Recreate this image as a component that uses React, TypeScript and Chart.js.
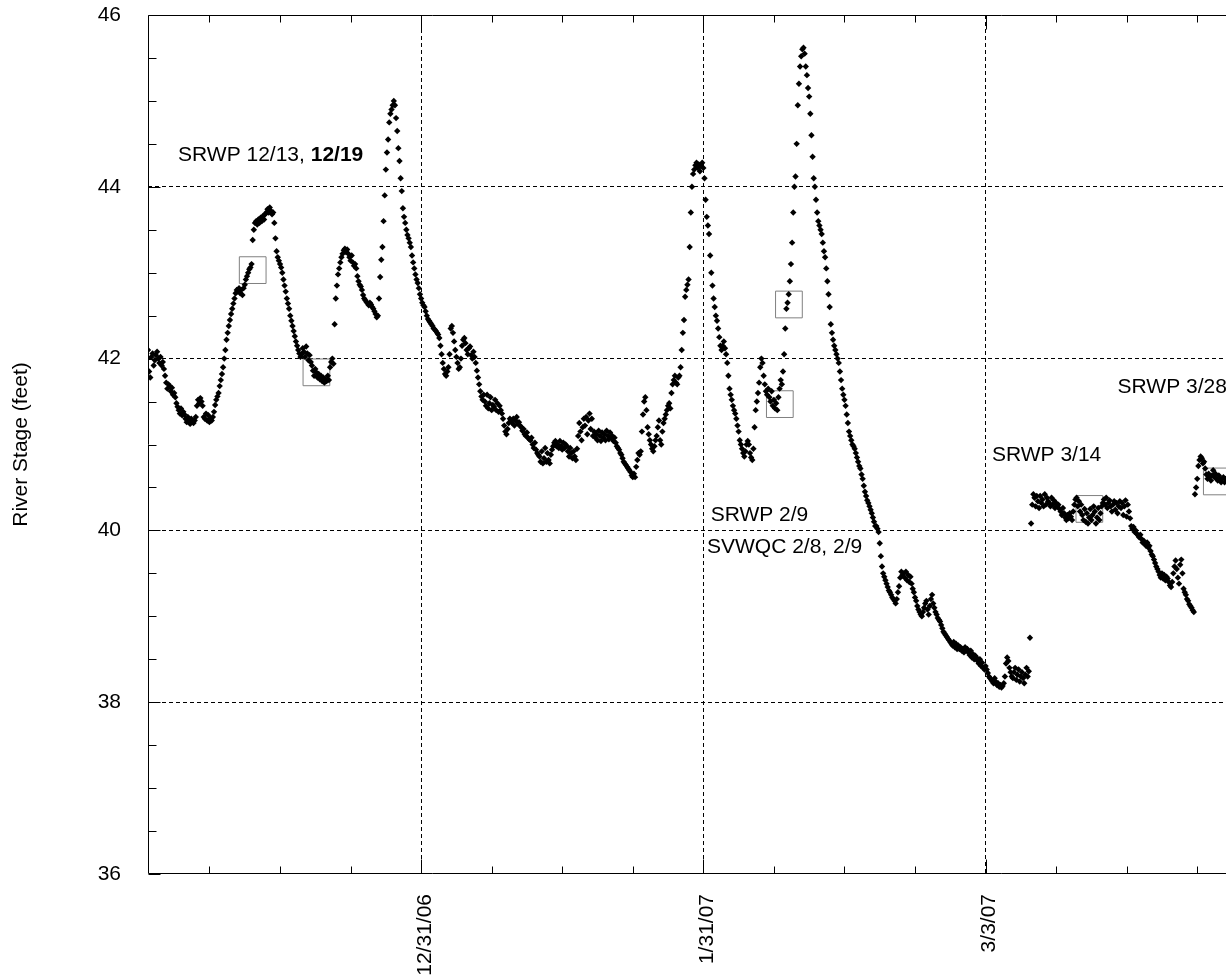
import { useEffect, useRef } from 'react';
import { Chart, registerables } from 'chart.js';

Chart.register(...registerables);

const FONT = "'Liberation Sans', Arial, sans-serif";

// River stage (feet), 8 readings per day (every 3 h), day 0 = 12/1/06
const decStage = [
  42.10, 41.85, 41.78, 42.02, 42.06, 41.92, 41.98, 42.04,
  42.08, 42.00, 41.95, 42.02, 41.92, 41.96, 41.88, 41.80,
  41.72, 41.65, 41.70, 41.68, 41.62, 41.66, 41.58, 41.60,
  41.55, 41.48, 41.44, 41.40, 41.36, 41.42, 41.34, 41.38,
  41.35, 41.30, 41.26, 41.32, 41.28, 41.24, 41.30, 41.26,
  41.25, 41.28, 41.32, 41.45, 41.52, 41.48, 41.54, 41.50,
  41.45, 41.32, 41.30, 41.36, 41.28, 41.34, 41.26, 41.30,
  41.28, 41.32, 41.38, 41.46, 41.52, 41.56, 41.60, 41.68,
  41.75, 41.82, 41.90, 42.00, 42.10, 42.22, 42.30, 42.38,
  42.45, 42.52, 42.58, 42.64, 42.70, 42.76, 42.80, 42.78,
  42.82, 42.76, 42.80, 42.74, 42.82, 42.86, 42.92, 42.96,
  43.00, 43.04, 43.06, 43.10, 43.38, 43.50, 43.58, 43.60,
  43.56, 43.62, 43.58, 43.64, 43.60, 43.66, 43.62, 43.68,
  43.70, 43.74, 43.70, 43.76, 43.72, 43.68, 43.70, 43.58,
  43.40, 43.25, 43.18, 43.14, 43.10, 43.06, 43.00, 42.92,
  42.85, 42.78, 42.70, 42.64, 42.58, 42.50, 42.44, 42.38,
  42.32, 42.26, 42.20, 42.15, 42.10, 42.06, 42.02, 42.05,
  42.12, 42.08, 42.02, 42.14, 42.06, 41.98, 42.04, 41.96,
  41.92, 41.86, 41.80, 41.88, 41.84, 41.78, 41.82, 41.76,
  41.80, 41.74, 41.78, 41.72, 41.76, 41.74, 41.80, 41.75,
  41.90, 41.96, 42.00, 41.94, 42.40, 42.70, 42.85, 42.98,
  43.05, 43.12, 43.18, 43.22, 43.26, 43.28, 43.24, 43.27,
  43.22, 43.18, 43.14, 43.20, 43.12, 43.08, 43.10, 43.05,
  42.96, 42.90, 42.86, 42.84, 42.80, 42.74, 42.70, 42.68,
  42.66, 42.64, 42.62, 42.65, 42.63, 42.60, 42.58, 42.55,
  42.52, 42.48, 42.50, 42.70, 42.95, 43.15, 43.30, 43.60,
  43.90, 44.20, 44.40, 44.55, 44.75, 44.85, 44.90, 44.95,
  45.00, 44.95, 44.80, 44.65, 44.45, 44.30, 44.10, 43.95,
  43.75, 43.65, 43.58, 43.50, 43.44, 43.40, 43.35, 43.30,
  43.20, 43.12, 43.05, 42.98, 42.92, 42.88, 42.82, 42.75,
  42.70, 42.65, 42.62, 42.60, 42.55, 42.50, 42.46, 42.44,
];

const janStage = [
  42.42, 42.40, 42.38, 42.35, 42.34, 42.32, 42.30, 42.28,
  42.24, 42.15, 42.05, 41.95, 41.88, 41.82, 41.80, 41.85,
  41.90, 42.05, 42.35, 42.38, 42.30, 42.20, 42.10, 42.02,
  41.95, 41.88, 41.90, 42.00, 42.15, 42.22, 42.24, 42.18,
  42.10, 42.05, 42.12, 42.14, 42.04, 42.00, 42.08, 42.02,
  41.95, 41.86, 41.78, 41.70, 41.62, 41.56, 41.52, 41.58,
  41.50, 41.45, 41.58, 41.42, 41.48, 41.55, 41.40, 41.46,
  41.44, 41.52, 41.40, 41.48, 41.38, 41.45, 41.40, 41.36,
  41.30, 41.22, 41.15, 41.12, 41.18, 41.25, 41.30, 41.28,
  41.25, 41.30, 41.22, 41.28, 41.32, 41.24, 41.26, 41.22,
  41.20, 41.16, 41.18, 41.12, 41.10, 41.14, 41.08, 41.06,
  41.05, 41.08, 41.00, 40.96, 41.02, 40.94, 40.90, 40.88,
  40.86, 40.80, 40.92, 40.78, 40.84, 40.96, 40.80, 40.90,
  40.82, 40.78, 40.88, 40.94, 40.98, 41.02, 41.04, 40.98,
  41.00, 40.96, 41.04, 40.98, 40.94, 41.02, 40.96, 41.00,
  40.98, 40.92, 40.86, 40.96, 40.90, 40.84, 40.92, 40.86,
  40.82, 40.95, 41.10, 41.25, 41.15, 41.05, 41.20, 41.30,
  41.22, 41.32, 41.12, 41.28, 41.36, 41.18, 41.30, 41.10,
  41.15, 41.08, 41.12, 41.05, 41.16, 41.10, 41.04, 41.14,
  41.08, 41.12, 41.05, 41.16, 41.10, 41.06, 41.14, 41.08,
  41.10, 41.04, 41.08, 41.02, 40.98, 40.96, 40.94, 40.90,
  40.88, 40.84, 40.80, 40.78, 40.76, 40.74, 40.72, 40.70,
  40.68, 40.64, 40.62, 40.66, 40.62, 40.74, 40.82, 40.90,
  40.88, 40.92, 41.15, 41.35, 41.50, 41.55, 41.40, 41.20,
  41.12, 41.05, 41.00, 40.95, 40.92, 40.98, 41.05, 41.10,
  41.20, 41.28, 41.05, 41.00, 41.15, 41.25, 41.30, 41.35,
  41.40, 41.45, 41.48, 41.42, 41.60, 41.70, 41.75, 41.80,
  41.72, 41.70, 41.78, 41.80, 41.90, 42.10, 42.30, 42.45,
  42.72, 42.80, 42.86, 42.92, 43.30, 43.70, 44.00, 44.15,
  44.20, 44.25, 44.28, 44.22, 44.26, 44.18, 44.24, 44.28,
  44.22, 44.10, 43.85, 43.65, 43.55, 43.45, 43.20, 43.00,
];

const febStage = [
  42.85, 42.70, 42.60, 42.50, 42.44, 42.35, 42.25, 42.15,
  42.10, 42.15, 42.20, 42.12, 42.05, 41.95, 41.80, 41.65,
  41.58, 41.52, 41.45, 41.40, 41.36, 41.30, 41.22, 41.15,
  41.05, 41.00, 40.95, 40.90, 40.86, 40.92, 41.00, 41.04,
  41.00, 40.90, 40.85, 40.82, 40.95, 41.20, 41.40, 41.50,
  41.60, 41.72, 41.90, 42.00, 41.95, 41.80, 41.70, 41.62,
  41.58, 41.65, 41.55, 41.50, 41.62, 41.45, 41.52, 41.42,
  41.48, 41.40, 41.55, 41.65, 41.75, 41.70, 41.85, 42.05,
  42.35, 42.58, 42.65, 42.75, 42.90, 43.10, 43.35, 43.70,
  44.00, 44.12, 44.50, 44.95, 45.20, 45.40, 45.52, 45.60,
  45.62, 45.55, 45.40, 45.30, 45.15, 45.05, 44.85, 44.60,
  44.35, 44.10, 44.00, 43.85, 43.70, 43.60, 43.55, 43.50,
  43.45, 43.35, 43.25, 43.18, 43.05, 42.90, 42.75, 42.60,
  42.40, 42.30, 42.22, 42.15, 42.10, 42.05, 42.00, 41.95,
  41.85, 41.75, 41.65, 41.58, 41.52, 41.45, 41.35, 41.25,
  41.15, 41.10, 41.05, 41.00, 40.98, 40.95, 40.90, 40.85,
  40.80, 40.75, 40.72, 40.65, 40.60, 40.52, 40.45, 40.40,
  40.35, 40.32, 40.28, 40.24, 40.20, 40.15, 40.10, 40.05,
  40.05, 40.02, 39.98, 39.85, 39.70, 39.58, 39.50, 39.46,
  39.42, 39.38, 39.34, 39.30, 39.28, 39.25, 39.22, 39.20,
  39.18, 39.15, 39.20, 39.28, 39.35, 39.45, 39.52, 39.48,
  39.50, 39.45, 39.52, 39.42, 39.48, 39.40, 39.46, 39.38,
  39.32, 39.28, 39.22, 39.18, 39.12, 39.08, 39.05, 39.02,
  39.00, 39.05, 39.10, 39.15, 39.18, 39.08, 39.02, 39.12,
  39.20, 39.25, 39.15, 39.10, 39.05, 39.02, 38.98, 38.96,
  38.94, 38.90, 38.86, 38.82, 38.80, 38.78, 38.76, 38.74,
  38.72, 38.70, 38.68, 38.66, 38.70, 38.64, 38.68, 38.62,
  38.66, 38.62, 38.64, 38.60, 38.62, 38.58, 38.64, 38.60,
];

const marStage = [
  38.62, 38.58, 38.55, 38.60, 38.52, 38.56, 38.50, 38.54,
  38.52, 38.48, 38.45, 38.50, 38.42, 38.46, 38.40, 38.38,
  38.42, 38.38, 38.34, 38.30, 38.28, 38.26, 38.24, 38.22,
  38.28, 38.24, 38.20, 38.22, 38.18, 38.20, 38.17, 38.19,
  38.22, 38.30, 38.45, 38.52, 38.48, 38.40, 38.35, 38.30,
  38.28, 38.35, 38.40, 38.26, 38.32, 38.38, 38.24, 38.30,
  38.35, 38.28, 38.22, 38.32, 38.40, 38.30, 38.36, 38.75,
  40.08, 40.30, 40.42, 40.38, 40.28, 40.40, 40.34, 40.26,
  40.40, 40.32, 40.36, 40.28, 40.42, 40.30, 40.38, 40.34,
  40.32, 40.28, 40.38, 40.30, 40.35, 40.26, 40.32, 40.28,
  40.30, 40.25, 40.22, 40.18, 40.26, 40.20, 40.15, 40.12,
  40.18, 40.14, 40.20, 40.16, 40.12, 40.22, 40.30, 40.36,
  40.38, 40.28, 40.34, 40.22, 40.30, 40.18, 40.12, 40.25,
  40.10, 40.20, 40.08, 40.15, 40.25, 40.12, 40.18, 40.28,
  40.22, 40.08, 40.15, 40.26, 40.12, 40.20, 40.28, 40.32,
  40.36, 40.30, 40.38, 40.26, 40.32, 40.35, 40.28, 40.22,
  40.30, 40.34, 40.24, 40.32, 40.20, 40.28, 40.34, 40.26,
  40.32, 40.18, 40.28, 40.35, 40.16, 40.30, 40.22, 40.14,
  40.05, 40.02, 40.04, 39.98, 40.00, 39.96, 39.94, 39.92,
  39.95, 39.90, 39.86, 39.88, 39.84, 39.82, 39.86, 39.80,
  39.82, 39.76, 39.72, 39.70, 39.66, 39.62, 39.58, 39.55,
  39.52, 39.48, 39.45, 39.50, 39.44, 39.48, 39.42, 39.46,
  39.44, 39.40, 39.36, 39.34, 39.40, 39.50, 39.58, 39.65,
  39.55, 39.45, 39.38, 39.60, 39.66, 39.50, 39.32, 39.28,
  39.25, 39.20, 39.18, 39.14, 39.12, 39.10, 39.07, 39.05,
  40.42, 40.50, 40.60, 40.75, 40.82, 40.86, 40.84, 40.78,
  40.80, 40.72, 40.65, 40.60, 40.66, 40.62, 40.58, 40.64,
  40.70, 40.62, 40.66, 40.60, 40.58, 40.64, 40.60, 40.56,
  40.60, 40.62, 40.56, 40.60, 40.58, 40.62, 40.55, 40.58,
];

const monthStartDay = [0, 31, 62, 90];
const samplesPerDay = 8;

// Water-quality sampling events (boxes)
const sampleDays = [11.5, 18.5, 69.4, 70.4, 103.4, 117.4];
const sampleStage = [43.03, 41.84, 41.47, 42.63, 40.25, 40.57];

// Axis ticks
const xMajorDays = [30, 61, 92, 123];
const xMajorLabels = ['12/31/06', '1/31/07', '3/3/07', '4/3/07'];
const xMinorStep = 7.75;
const xMin = 0;
const xMax = 125;
const yMin = 36;
const yMax = 46;
const yMinorStep = 0.5;
const yLabelStep = 2;

const annotations = [
  { day: 3.3, stage: 44.3, parts: [{ t: 'SRWP 12/13, ', bold: false }, { t: '12/19', bold: true }] },
  { day: 61.8, stage: 40.11, parts: [{ t: 'SRWP 2/9', bold: false }] },
  { day: 61.4, stage: 39.74, parts: [{ t: 'SVWQC 2/8, 2/9', bold: false }] },
  { day: 92.7, stage: 40.81, parts: [{ t: 'SRWP 3/14', bold: false }] },
  { day: 106.5, stage: 41.6, parts: [{ t: 'SRWP 3/28', bold: false }] },
];

const stagePoints: { x: number; y: number }[] = [];
[decStage, janStage, febStage, marStage].forEach((arr, m) => {
  arr.forEach((v, i) => stagePoints.push({ x: monthStartDay[m] + i / samplesPerDay, y: v }));
});
const boxPoints = sampleDays.map((d, i) => ({ x: d, y: sampleStage[i] }));

const xTicks: number[] = [];
for (let k = -8; k <= 16; k++) {
  const v = xMajorDays[0] + k * xMinorStep;
  if (v >= xMin && v <= xMax) xTicks.push(v);
}
const yTicks: number[] = [];
for (let v = yMin; v <= yMax + 1e-9; v += yMinorStep) yTicks.push(Math.round(v * 10) / 10);

const majorIndexX = (v: number) => xMajorDays.findIndex((d) => Math.abs(d - v) < 1e-6);
const isMajorY = (v: number) => Math.abs(v / yLabelStep - Math.round(v / yLabelStep)) < 1e-6;

const zeroPadding = (s: any) => {
  s.paddingTop = 0;
  s.paddingBottom = 0;
  s.paddingLeft = 0;
  s.paddingRight = 0;
};

const framePlugin = {
  id: 'frame',
  afterDraw(chart: any) {
    const { ctx, chartArea, scales } = chart;
    const { left, right, top, bottom } = chartArea;
    const xs = scales.x;
    const ys = scales.y;
    ctx.save();
    ctx.strokeStyle = '#000';
    ctx.lineWidth = 1;
    ctx.setLineDash([]);
    const L = Math.round(left) + 0.5;
    const T = Math.round(top) + 0.5;
    const B = Math.round(bottom) - 0.5;
    const R = Math.round(right) - 0.5;
    ctx.beginPath();
    ctx.moveTo(L, T);
    ctx.lineTo(L, B);
    ctx.lineTo(R, B);
    ctx.lineTo(R, T);
    ctx.closePath();
    xTicks.forEach((v) => {
      const px = Math.round(xs.getPixelForValue(v)) + 0.5;
      const len = majorIndexX(v) >= 0 ? 14 : 7;
      ctx.moveTo(px, B);
      ctx.lineTo(px, B - len);
      ctx.moveTo(px, T);
      ctx.lineTo(px, T + len);
    });
    yTicks.forEach((v) => {
      const py = Math.round(ys.getPixelForValue(v)) + 0.5;
      const len = isMajorY(v) ? 12 : 8;
      ctx.moveTo(L, py);
      ctx.lineTo(L + len, py);
      ctx.moveTo(R, py);
      ctx.lineTo(R - len, py);
    });
    ctx.stroke();

    ctx.fillStyle = '#000';
    ctx.textBaseline = 'alphabetic';
    ctx.textAlign = 'left';
    annotations.forEach((a) => {
      let x = xs.getPixelForValue(a.day);
      const y = ys.getPixelForValue(a.stage);
      a.parts.forEach((p) => {
        ctx.font = `${p.bold ? 'bold ' : ''}21px ${FONT}`;
        ctx.fillText(p.t, x, y);
        x += ctx.measureText(p.t).width;
      });
    });
    ctx.restore();
  },
};

export default function App() {
  const ref = useRef<HTMLCanvasElement>(null);

  useEffect(() => {
    const canvas = ref.current;
    if (!canvas) return;
    const chart = new Chart(canvas, {
      type: 'scatter',
      data: {
        datasets: [
          {
            label: 'River Stage',
            data: stagePoints,
            pointStyle: 'rectRot',
            pointRadius: 3.2,
            pointHoverRadius: 3.2,
            backgroundColor: '#000',
            borderColor: '#000',
            borderWidth: 0,
            showLine: false,
          },
          {
            label: 'Samples',
            data: boxPoints,
            pointStyle: 'rect',
            pointRadius: 18.9,
            pointHoverRadius: 18.9,
            backgroundColor: 'rgba(0,0,0,0)',
            borderColor: '#808080',
            borderWidth: 1,
            showLine: false,
          },
        ],
      },
      options: {
        responsive: false,
        animation: false,
        devicePixelRatio: 1,
        events: [],
        layout: { autoPadding: false, padding: { left: 5, top: 15, right: 14, bottom: 0 } },
        plugins: {
          legend: { display: false },
          tooltip: { enabled: false },
        },
        scales: {
          x: {
            type: 'linear',
            min: xMin,
            max: xMax,
            afterBuildTicks: (s: any) => {
              s.ticks = xTicks.map((v) => ({ value: v }));
            },
            afterFit: (s: any) => {
              s.height = 106;
              zeroPadding(s);
            },
            grid: {
              drawTicks: false,
              lineWidth: 1,
              color: (c: any) => (c.tick && majorIndexX(c.tick.value) >= 0 ? '#000' : 'rgba(0,0,0,0)'),
            },
            border: { display: false, dash: [4, 3] },
            ticks: {
              autoSkip: false,
              maxRotation: 90,
              minRotation: 90,
              padding: 20,
              labelOffset: 4,
              color: '#000',
              font: { family: FONT, size: 21 },
              callback: (v: any) => {
                const i = majorIndexX(Number(v));
                return i >= 0 ? xMajorLabels[i] : '';
              },
            },
          },
          y: {
            type: 'linear',
            min: yMin,
            max: yMax,
            afterBuildTicks: (s: any) => {
              s.ticks = yTicks.map((v) => ({ value: v }));
            },
            afterFit: (s: any) => {
              s.width = 143;
              zeroPadding(s);
            },
            grid: {
              drawTicks: false,
              lineWidth: 1,
              color: (c: any) => {
                const v = c.tick ? c.tick.value : NaN;
                return isMajorY(v) && v > yMin && v < yMax ? '#000' : 'rgba(0,0,0,0)';
              },
            },
            border: { display: false, dash: [4, 3] },
            ticks: {
              padding: 27,
              color: '#000',
              font: { family: FONT, size: 21 },
              callback: (v: any) => (isMajorY(Number(v)) ? String(v) : ''),
            },
            title: {
              display: true,
              text: 'River Stage (feet)',
              color: '#000',
              font: { family: FONT, size: 21 },
              padding: { top: 4, bottom: 4 },
            },
          },
        },
      },
      plugins: [framePlugin],
    } as any);
    return () => chart.destroy();
  }, []);

  return (
    <div
      style={{
        position: 'fixed',
        left: 0,
        top: 0,
        width: 1226,
        height: 980,
        overflow: 'hidden',
        background: '#fff',
      }}
    >
      <canvas ref={ref} width={1300} height={980} style={{ display: 'block', width: 1300, height: 980 }} />
    </div>
  );
}
